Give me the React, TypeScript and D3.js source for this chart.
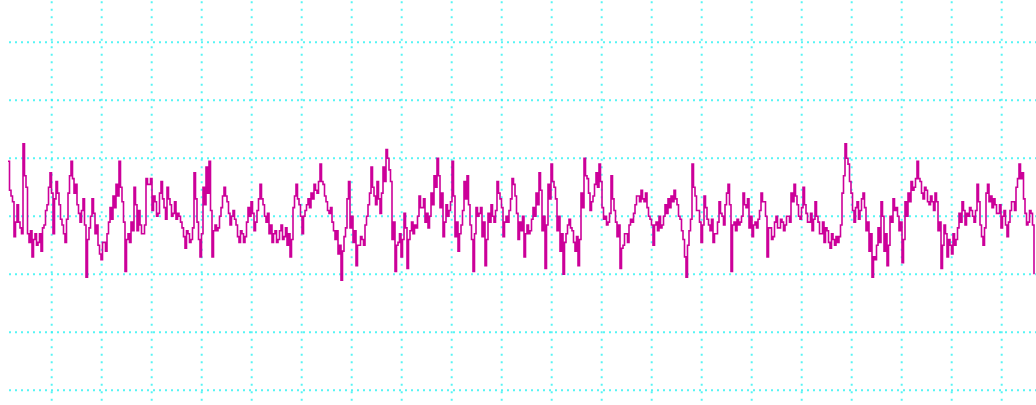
import React from "react";
import * as d3 from "d3";

// Signal samples (grid unit = 20). Each 0.06 s bin holds two readings:
// the value at the start of the bin (signal*) and the value half a bin later (half*).
const signalA = [19, 7, -7, 4, -4, 25, 10, -9, -14, -6, -9, -12, -3, 4, 15, -6, 12, 4, -3, -9, 8, 19, 8, 4, -2, 6, -21, -4, 6, -6, -10, -15, -9, -6, 3, 7, 11, 19, 5, -19, -6, -2, 10, -5, -3, -6, 13, 11, 2, 5, 1, 12, 3, 10, 4, 1, -1, 0];
const halfA = [9, 5, -2, -2, -6, 14, -6, -5, -8, -10, -6, -4, 2, 10, 8, 6, 8, -1, -6, -1, 14, 13, 11, 1, 2, -3, -8, 0, 1, -3, -13, -9, -12, -2, -1, 3, 7, 10, -2, -8, -9, -5, 4, 2, -6, -3, 11, 13, 7, 0, 8, 6, -1, 6, 0, 5, 1, -2];
const signalB = [-4, -11, -6, -8, 15, -2, -14, 10, 17, 19, -14, -3, -4, 3, 10, 5, -3, 2, -3, -9, -6, -7, 3, 5, -5, 2, 11, 4, -2, -6, -9, -5, -8, -3, -7, -10, -14, 3, 11, 4, -6, 2, 6, 8, 11, 8, 18, 11, 5, 1, -2, -8, -13, -22, -7, 6];
const halfB = [-7, -5, -9, -4, 6, -8, -6, 4, 8, 2, -5, -5, 0, 7, 7, 1, 0, -1, -7, -5, -9, -2, 0, 1, -2, 6, 6, 0, 1, -3, -6, -9, -5, -8, -4, -6, -8, 7, 6, 0, 0, 4, 3, 6, 9, 12, 12, 7, 2, 3, -5, -5, -10, -12, -4, 12];
const signalC = [-4, -9, -17, -10, -8, -3, 4, 17, 7, 12, 1, 17, 23, 16, -8, -19, -9, -14, 1, -18, -5, -6, -4, 7, 3, -2, -4, 8, 14, 20, 3, -7, 4, 2, 19, -7, -12, -3, 12, 14, -3, -19, 3, 1, -7, -17, 1, 4, -2, 12, 6, -7, 0, 2, 13, 7, -8];
const halfC = [0, -5, -10, -7, -10, 0, 8, 10, 4, 6, 8, 12, 20, 12, -2, -10, -6, -8, -4, -8, -2, -3, 0, 3, 6, 1, 0, 4, 10, 14, 8, -2, 0, 5, 7, -2, -6, 2, 6, 4, -8, -6, 0, 3, -2, -8, -2, 0, 2, 8, 3, -2, -2, 6, 11, 1, -2];
const signalD = [-5, -14, -3, -5, 3, 8, 15, -5, -18, 11, 18, 10, -5, -12, -20, -6, -1, -5, -12, -17, 8, 20, 13, 2, 7, 15, 18, 3, 0, -2, 14, 2, -7, -18, -10, -6, -3, -2, 4, 7, 9, 5, 3, -1, -10, -2, 0, -3, 4, 6, 7, 9, 4, -1, -8, -21, -5];
const halfD = [0, -6, -6, -1, 0, 4, 9, 0, -3, 6, 12, 6, 0, -6, -9, -3, -4, -9, -7, -8, 3, 14, 8, 5, 11, 10, 12, -1, -3, 1, 6, -2, -3, -11, -6, -9, -1, 1, 7, 5, 6, 8, 0, -3, -3, -5, -4, 0, 1, 3, 5, 6, 0, -5, -14, -10, -1];
const signalE = [18, 7, 2, -9, 7, -1, -5, -9, -6, 5, 0, 4, 11, -19, -2, -1, -2, 8, 3, -4, -7, -2, -1, 8, 5, -14, -4, -7, 0, -4, -2, -3, 0, 8, 11, 4, -1, 10, 1, -2, -5, 5, -2, -6, -9, -5, -11, -8, -7, -7, 8, 25, 18, 8, -2, 5];
const halfE = [10, 2, -2, -3, 3, -3, -1, -6, -2, 1, -3, 8, 4, -3, -5, -3, 0, 4, 6, 0, -3, -4, 2, 5, 0, -4, -8, -2, -4, -1, -5, 0, -2, 5, 7, 0, 3, 4, -2, 1, -1, 0, -6, -2, -4, -9, -6, -10, -9, -3, 14, 20, 12, 2, 3, -1];
const signalF = [2, 8, -5, -12, -21, -15, -4, 5, -12, -17, 0, 6, 3, -5, -16, 5, 8, 12, 10, 19, 12, 6, 9, 4, 5, 8, -5, -18, -3, -14, -10, -6, -8, 1, 5, -3, 0, 2, -2, 11, -3, -10, 8, 5, 3, 4, 1, -4, 2, -7, 2, 5, 10, 18, 15, 1, -2, 1, -20];
const halfF = [6, 3, -2, -6, -14, -10, -9, 0, -6, -10, -2, 2, 0, -2, -8, 0, 5, 9, 13, 13, 8, 10, 5, 7, 2, 5, -2, -10, -6, -8, -13, -10, -4, -2, 2, 1, 3, 0, 2, 5, -7, -4, 11, 7, 6, 1, 4, 0, -3, -2, 5, 2, 13, 13, 6, -3, 2, -3, -20];

const startTime = 0.126;
const sampleStep = 0.06;
const timeTicks = d3.range(1, 21);
const valueTicks = [-60, -40, -20, 0, 20, 40, 60];

const W = 1036;
const H = 405;

export default function App() {
  const starts = [...signalA, ...signalB, ...signalC, ...signalD, ...signalE, ...signalF];
  const halves = [...halfA, ...halfB, ...halfC, ...halfD, ...halfE, ...halfF];
  const data: { t: number; v: number }[] = [];
  starts.forEach((v, i) => {
    const t = startTime + i * sampleStep;
    data.push({ t, v });
    if (i < starts.length - 1) data.push({ t: t + sampleStep / 2, v: halves[i] });
  });

  const x = d3.scaleLinear().domain([0, 20.7]).range([1.7, 1036.7]);
  const y = d3.scaleLinear().domain([-60, 60]).range([390.3, 42.3]);

  const line = d3
    .line<{ t: number; v: number }>()
    .x((d) => x(d.t))
    .y((d) => y(d.v))
    .curve(d3.curveStepAfter);

  const gridColor = "#2ef2f2";

  return (
    <svg
      width={W}
      height={H}
      style={{ position: "absolute", left: 0, top: 0, background: "#fff" }}
    >
      <g>
        {timeTicks.map((t) => (
          <line
            key={"v" + t}
            x1={x(t)}
            x2={x(t)}
            y1={1.3}
            y2={H}
            stroke={gridColor}
            strokeWidth={2}
            strokeDasharray="2 5.5"
            opacity={0.8}
          />
        ))}
        {valueTicks.map((v) => (
          <line
            key={"h" + v}
            x1={x(startTime) + 1}
            x2={W}
            y1={y(v)}
            y2={y(v)}
            stroke={gridColor}
            strokeWidth={2}
            strokeDasharray="2 4"
            opacity={0.8}
          />
        ))}
      </g>
      <path d={line(data) || ""} fill="none" stroke="#cc0099" strokeWidth={1.6} />
    </svg>
  );
}
